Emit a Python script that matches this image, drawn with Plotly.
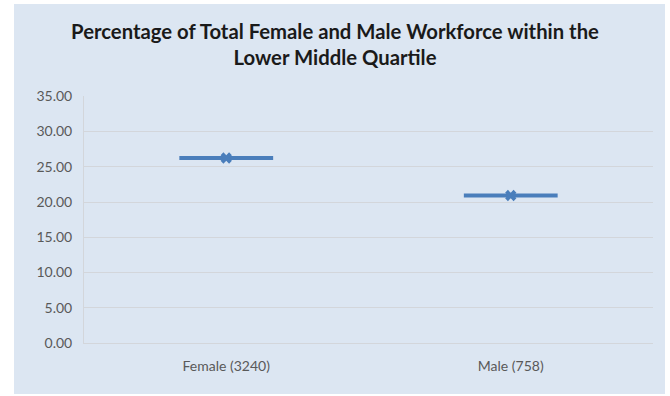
import plotly.graph_objects as go

categories = ["Female (3240)", "Male (758)"]
values = [26.25, 20.93]
title_text = "Percentage of Total Female and Male Workforce within the<br>Lower Middle Quartile"
y_ticks = [0, 5, 10, 15, 20, 25, 30, 35]

blue = "#4a7ebb"
grid = "#d3d6db"
font_family = "Lato, 'Open Sans', sans-serif"

fig = go.Figure()
fig.add_trace(go.Scatter(
    x=categories, y=values, mode="markers",
    marker=dict(symbol="line-ew", size=67, color=blue,
                line=dict(width=4, color=blue)),
    hoverinfo="skip", showlegend=False,
))
fig.add_trace(go.Scatter(
    x=categories, y=values, mode="markers",
    marker=dict(symbol="x", size=10, color=blue, line=dict(width=0)),
    showlegend=False,
))

fig.update_layout(
    width=670, height=396,
    margin=dict(l=84, r=17, t=96, b=53),
    paper_bgcolor="white",
    plot_bgcolor="rgba(0,0,0,0)",
    title=dict(text=title_text, x=0.5, xanchor="center", y=0.902, yanchor="top",
               font=dict(family=font_family, size=20.3, color="#1a1a1a", weight="bold")),
    shapes=[dict(type="rect", xref="paper", yref="paper",
                 x0=-0.123, x1=1.0211, y0=-0.2065, y1=1.3725,
                 fillcolor="#dce6f2", line=dict(width=0), layer="below")],
    xaxis=dict(
        type="category", range=[-0.5, 1.5],
        showgrid=False, showline=True, linecolor=grid, linewidth=1,
        tickfont=dict(family=font_family, size=14, color="#595959"),
        ticks="outside", ticklen=10, tickcolor="rgba(0,0,0,0)",
    ),
    yaxis=dict(
        range=[0, 35.05], tickvals=y_ticks, tickformat=".2f",
        showgrid=True, gridcolor=grid, gridwidth=1,
        showline=True, linecolor=grid, linewidth=1,
        zeroline=False,
        ticks="outside", ticklen=8, tickcolor="rgba(0,0,0,0)",
        tickfont=dict(family=font_family, size=14, color="#595959"),
    ),
)

fig.write_html("out.html")
